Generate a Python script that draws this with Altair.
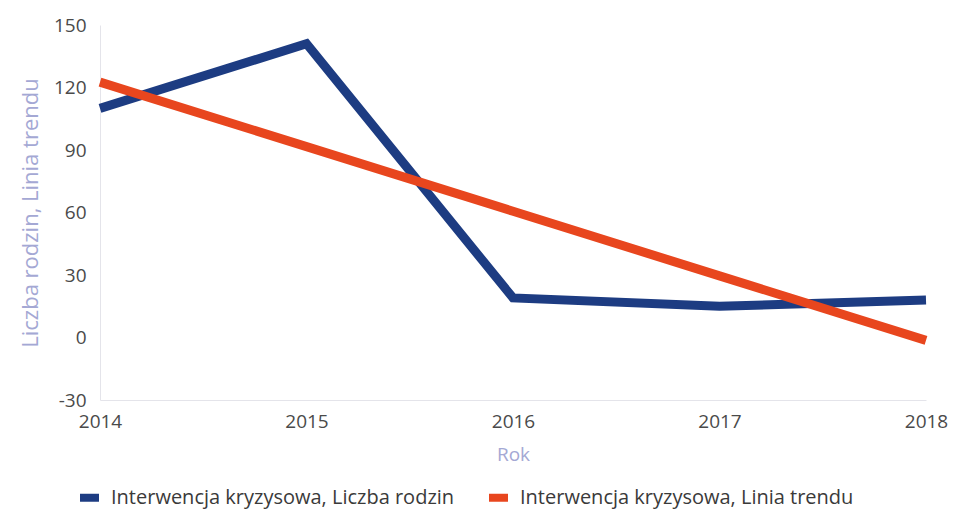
import altair as alt
import pandas as pd

years = [2014, 2015, 2016, 2017, 2018]
families = [110, 141, 19, 15, 18]
trend = [122.6, 91.6, 60.6, 29.6, -1.4]
series_names = ["Interwencja kryzysowa, Liczba rodzin", "Interwencja kryzysowa, Linia trendu"]
colors = ["#1d3c82", "#e8461e"]
y_ticks = [-30, 0, 30, 60, 90, 120, 150]

rows = []
for y, v in zip(years, families):
    rows.append({"Rok": y, "value": v, "series": series_names[0]})
for y, v in zip(years, trend):
    rows.append({"Rok": y, "value": v, "series": series_names[1]})
df = pd.DataFrame(rows)

chart = alt.Chart(df).mark_line(strokeWidth=9, strokeJoin="miter", strokeCap="butt").encode(
    x=alt.X("Rok:Q", scale=alt.Scale(domain=[2014, 2018], nice=False),
            axis=alt.Axis(values=years, format="d", title="Rok", grid=False, ticks=False,
                          domain=True, domainColor="#e4e4ea", labelPadding=12,
                          labelFontSize=19, labelColor="#4a4a4a", labelFont="Open Sans",
                          titleFont="Open Sans", titleFontSize=19, titleFontWeight="normal",
                          titleColor="#a4a8d4", titlePadding=14,
                          labelFlush=False)),
    y=alt.Y("value:Q", scale=alt.Scale(domain=[-30, 150], nice=False),
            axis=alt.Axis(values=y_ticks, title="Liczba rodzin, Linia trendu", grid=False,
                          ticks=False, domain=True, domainColor="#e4e4ea", labelPadding=14,
                          labelExpr="'' + datum.value",
                          labelFontSize=19, labelColor="#4a4a4a", labelFont="Open Sans",
                          titleFont="Open Sans", titleFontSize=22, titleFontWeight="normal",
                          titleColor="#a4a8d4", titlePadding=11)),
    color=alt.Color("series:N", scale=alt.Scale(domain=series_names, range=colors),
                    legend=alt.Legend(title=None, orient="none", legendX=-24, legendY=459,
                                      direction="horizontal", columns=2,
                                      symbolType="M-1,0L1,0",
                                      symbolSize=360, symbolStrokeWidth=8, labelFontSize=20,
                                      labelOffset=8,
                                      labelFont="Open Sans", labelColor="#3a3a3a",
                                      columnPadding=18, labelLimit=500)),
).properties(
    width=826, height=375,
    autosize=alt.AutoSizeParams(type="none"),
    padding={"left": 92, "top": 17, "right": 22, "bottom": 114},
).configure_view(stroke=None)

chart.save("out.html", embed_options={"renderer": "svg", "actions": False})
